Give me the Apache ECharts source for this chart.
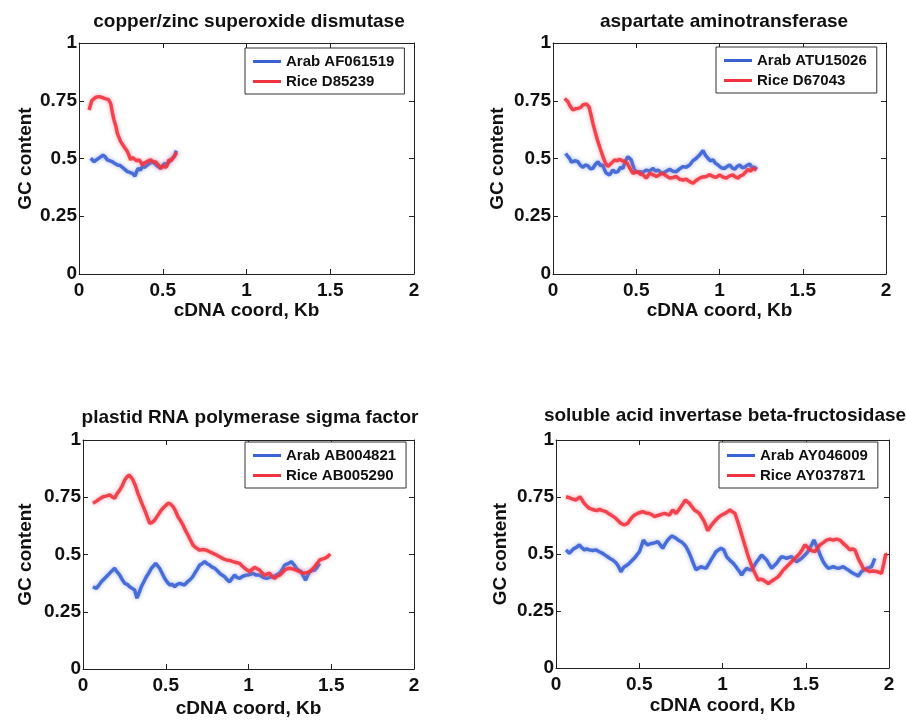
<!DOCTYPE html>
<html>
<head>
<meta charset="utf-8">
<script src="https://cdn.jsdelivr.net/npm/echarts@6/dist/echarts.min.js"></script>
<style>
  html, body { margin: 0; padding: 0; background: #fff; }
  #gc_chart { width: 906px; height: 723px; }
</style>
</head>
<body>
<div id="gc_chart"></div>
<script>
// tick values shared by all four panels
const xTicks = [0, 0.5, 1, 1.5, 2];
const yTicks = [0, 0.25, 0.5, 0.75, 1];

const titles = [
  "copper/zinc superoxide dismutase",
  "aspartate aminotransferase",
  "plastid RNA polymerase sigma factor",
  "soluble acid invertase beta-fructosidase",
];
const arabNames = ["Arab AF061519", "Arab ATU15026", "Arab AB004821", "Arab AY046009"];
const riceNames = ["Rice D85239", "Rice D67043", "Rice AB005290", "Rice AY037871"];

// [cDNA coord (Kb), GC content]
const cuznArab = [
  [0.07, 0.501], [0.09, 0.486], [0.109, 0.497], [0.125, 0.505], [0.143, 0.515], [0.155, 0.508],
  [0.169, 0.494], [0.185, 0.49], [0.199, 0.486], [0.215, 0.478], [0.229, 0.472], [0.245, 0.47],
  [0.259, 0.462], [0.275, 0.452], [0.289, 0.443], [0.305, 0.44], [0.318, 0.436], [0.334, 0.424],
  [0.345, 0.445], [0.354, 0.457], [0.366, 0.45], [0.378, 0.465], [0.392, 0.462], [0.408, 0.472],
  [0.423, 0.48], [0.438, 0.486], [0.452, 0.478], [0.468, 0.467], [0.488, 0.457], [0.5, 0.47],
  [0.513, 0.479], [0.525, 0.47], [0.537, 0.486], [0.557, 0.501], [0.57, 0.51], [0.581, 0.534],
];
const cuznRice = [
  [0.06, 0.71], [0.068, 0.73], [0.076, 0.75], [0.088, 0.758], [0.1, 0.765], [0.11, 0.762],
  [0.119, 0.768], [0.135, 0.765], [0.149, 0.761], [0.162, 0.758], [0.175, 0.756], [0.189, 0.739],
  [0.199, 0.7], [0.209, 0.667], [0.22, 0.64], [0.229, 0.609], [0.249, 0.573], [0.269, 0.551],
  [0.289, 0.53], [0.3, 0.51], [0.308, 0.494], [0.318, 0.505], [0.328, 0.501], [0.345, 0.49],
  [0.358, 0.494], [0.368, 0.485], [0.378, 0.472], [0.39, 0.48], [0.398, 0.486], [0.415, 0.49],
  [0.428, 0.494], [0.445, 0.484], [0.458, 0.486], [0.475, 0.47], [0.488, 0.457], [0.497, 0.468],
  [0.507, 0.472], [0.52, 0.462], [0.537, 0.494], [0.55, 0.49], [0.567, 0.508], [0.583, 0.526],
];

const aatArab = [
  [0.076, 0.522], [0.088, 0.51], [0.1, 0.5], [0.11, 0.485], [0.12, 0.479], [0.135, 0.49],
  [0.15, 0.486], [0.165, 0.47], [0.18, 0.462], [0.195, 0.472], [0.21, 0.468], [0.225, 0.455],
  [0.24, 0.458], [0.255, 0.475], [0.27, 0.486], [0.285, 0.47], [0.3, 0.472], [0.31, 0.45],
  [0.32, 0.436], [0.34, 0.429], [0.35, 0.44], [0.36, 0.45], [0.375, 0.44], [0.39, 0.443],
  [0.405, 0.462], [0.42, 0.457], [0.435, 0.49], [0.45, 0.508], [0.46, 0.5], [0.47, 0.494],
  [0.48, 0.47], [0.49, 0.45], [0.505, 0.44], [0.521, 0.443], [0.54, 0.44], [0.561, 0.45],
  [0.58, 0.445], [0.601, 0.457], [0.615, 0.445], [0.631, 0.45], [0.645, 0.44], [0.661, 0.436],
  [0.68, 0.445], [0.701, 0.453], [0.72, 0.445], [0.741, 0.443], [0.76, 0.455], [0.781, 0.465],
  [0.8, 0.462], [0.821, 0.472], [0.84, 0.49], [0.861, 0.501], [0.88, 0.515], [0.901, 0.534],
  [0.915, 0.515], [0.931, 0.501], [0.945, 0.49], [0.961, 0.494], [0.975, 0.48], [0.991, 0.472],
  [1.01, 0.46], [1.031, 0.457], [1.045, 0.465], [1.061, 0.472], [1.075, 0.46], [1.091, 0.453],
  [1.105, 0.465], [1.121, 0.472], [1.135, 0.46], [1.151, 0.462], [1.165, 0.47], [1.181, 0.476],
  [1.195, 0.46], [1.211, 0.462], [1.225, 0.453],
];
const aatRice = [
  [0.07, 0.76], [0.08, 0.752], [0.09, 0.746], [0.1, 0.73], [0.11, 0.72], [0.12, 0.71],
  [0.135, 0.715], [0.15, 0.717], [0.165, 0.72], [0.18, 0.732], [0.19, 0.728], [0.2, 0.736],
  [0.216, 0.724], [0.228, 0.69], [0.24, 0.652], [0.255, 0.61], [0.27, 0.573], [0.285, 0.54],
  [0.3, 0.508], [0.315, 0.48], [0.33, 0.465], [0.34, 0.47], [0.35, 0.479], [0.36, 0.475],
  [0.37, 0.494], [0.385, 0.49], [0.4, 0.497], [0.415, 0.49], [0.43, 0.487], [0.445, 0.48],
  [0.456, 0.472], [0.468, 0.45], [0.48, 0.436], [0.495, 0.44], [0.51, 0.443], [0.525, 0.432],
  [0.541, 0.429], [0.56, 0.415], [0.581, 0.436], [0.6, 0.43], [0.621, 0.422], [0.64, 0.43],
  [0.661, 0.436], [0.68, 0.425], [0.701, 0.415], [0.72, 0.418], [0.741, 0.422], [0.76, 0.41],
  [0.781, 0.407], [0.8, 0.41], [0.821, 0.4], [0.841, 0.393], [0.86, 0.405], [0.881, 0.415],
  [0.9, 0.42], [0.921, 0.422], [0.94, 0.43], [0.961, 0.422], [0.98, 0.418], [1.001, 0.429],
  [1.02, 0.42], [1.041, 0.415], [1.06, 0.425], [1.081, 0.429], [1.095, 0.42], [1.111, 0.415],
  [1.125, 0.425], [1.141, 0.429], [1.155, 0.44], [1.171, 0.453], [1.185, 0.445], [1.201, 0.457],
  [1.221, 0.45],
];

const sigArab = [
  [0.06, 0.359], [0.081, 0.352], [0.095, 0.365], [0.111, 0.381], [0.13, 0.395], [0.151, 0.41],
  [0.17, 0.425], [0.191, 0.44], [0.205, 0.425], [0.222, 0.41], [0.237, 0.39], [0.252, 0.374],
  [0.267, 0.37], [0.282, 0.359], [0.297, 0.352], [0.312, 0.345], [0.326, 0.309], [0.34, 0.335],
  [0.352, 0.359], [0.367, 0.38], [0.383, 0.403], [0.398, 0.42], [0.413, 0.44], [0.426, 0.45],
  [0.439, 0.461], [0.451, 0.455], [0.463, 0.44], [0.478, 0.418], [0.493, 0.396], [0.508, 0.38],
  [0.524, 0.367], [0.539, 0.37], [0.554, 0.359], [0.569, 0.37], [0.584, 0.374], [0.6, 0.37],
  [0.614, 0.367], [0.63, 0.38], [0.644, 0.388], [0.66, 0.4], [0.675, 0.418], [0.69, 0.435],
  [0.705, 0.454], [0.72, 0.46], [0.735, 0.469], [0.75, 0.46], [0.765, 0.454], [0.78, 0.445],
  [0.796, 0.44], [0.81, 0.43], [0.826, 0.418], [0.84, 0.41], [0.856, 0.403], [0.87, 0.39],
  [0.886, 0.381], [0.9, 0.395], [0.916, 0.41], [0.93, 0.4], [0.947, 0.396], [0.965, 0.405],
  [0.987, 0.41], [1.005, 0.412], [1.027, 0.418], [1.045, 0.41], [1.067, 0.41], [1.088, 0.4],
  [1.108, 0.396], [1.128, 0.4], [1.148, 0.403], [1.168, 0.41], [1.188, 0.418], [1.205, 0.435],
  [1.219, 0.454], [1.24, 0.46], [1.259, 0.469], [1.275, 0.455], [1.289, 0.44], [1.305, 0.43],
  [1.319, 0.425], [1.332, 0.405], [1.345, 0.388], [1.358, 0.41], [1.37, 0.425], [1.385, 0.43],
  [1.4, 0.432], [1.415, 0.445], [1.43, 0.461],
];
const sigRice = [
  [0.06, 0.724], [0.075, 0.73], [0.091, 0.738], [0.105, 0.745], [0.121, 0.752], [0.14, 0.755],
  [0.161, 0.76], [0.176, 0.752], [0.191, 0.745], [0.205, 0.765], [0.222, 0.781], [0.237, 0.8],
  [0.252, 0.825], [0.265, 0.838], [0.278, 0.847], [0.29, 0.838], [0.302, 0.825], [0.317, 0.8],
  [0.332, 0.767], [0.352, 0.73], [0.373, 0.694], [0.388, 0.665], [0.403, 0.636], [0.418, 0.64],
  [0.433, 0.65], [0.453, 0.672], [0.473, 0.694], [0.494, 0.71], [0.514, 0.724], [0.529, 0.72],
  [0.544, 0.709], [0.559, 0.69], [0.574, 0.665], [0.589, 0.648], [0.604, 0.629], [0.619, 0.605],
  [0.634, 0.585], [0.65, 0.562], [0.665, 0.541], [0.685, 0.528], [0.705, 0.519], [0.725, 0.522],
  [0.745, 0.519], [0.765, 0.512], [0.786, 0.505], [0.806, 0.498], [0.826, 0.49], [0.846, 0.482],
  [0.866, 0.476], [0.886, 0.474], [0.906, 0.469], [0.926, 0.465], [0.947, 0.461], [0.962, 0.45],
  [0.977, 0.44], [0.992, 0.432], [1.007, 0.425], [1.022, 0.435], [1.037, 0.444], [1.052, 0.438],
  [1.067, 0.432], [1.082, 0.42], [1.098, 0.41], [1.113, 0.415], [1.128, 0.418], [1.143, 0.405],
  [1.158, 0.396], [1.173, 0.405], [1.188, 0.41], [1.204, 0.42], [1.219, 0.432], [1.234, 0.438],
  [1.249, 0.44], [1.27, 0.436], [1.289, 0.432], [1.31, 0.425], [1.329, 0.418], [1.35, 0.42],
  [1.37, 0.425], [1.385, 0.435], [1.4, 0.447], [1.415, 0.462], [1.43, 0.476], [1.445, 0.48],
  [1.46, 0.483], [1.477, 0.49], [1.494, 0.502],
];

const invArab = [
  [0.06, 0.518], [0.08, 0.503], [0.095, 0.515], [0.11, 0.525], [0.125, 0.53], [0.14, 0.54],
  [0.155, 0.528], [0.17, 0.518], [0.185, 0.522], [0.2, 0.518], [0.22, 0.515], [0.24, 0.518],
  [0.26, 0.51], [0.28, 0.503], [0.295, 0.495], [0.31, 0.488], [0.325, 0.48], [0.34, 0.474],
  [0.355, 0.465], [0.37, 0.452], [0.38, 0.438], [0.39, 0.422], [0.4, 0.435], [0.41, 0.444],
  [0.425, 0.45], [0.44, 0.459], [0.455, 0.47], [0.47, 0.481], [0.485, 0.495], [0.501, 0.51],
  [0.513, 0.535], [0.525, 0.561], [0.538, 0.548], [0.551, 0.54], [0.566, 0.545], [0.581, 0.547],
  [0.596, 0.55], [0.611, 0.554], [0.626, 0.54], [0.641, 0.525], [0.656, 0.545], [0.671, 0.561],
  [0.684, 0.572], [0.697, 0.579], [0.709, 0.575], [0.721, 0.569], [0.736, 0.56], [0.751, 0.554],
  [0.766, 0.545], [0.781, 0.532], [0.791, 0.518], [0.801, 0.503], [0.811, 0.485], [0.821, 0.466],
  [0.831, 0.448], [0.841, 0.43], [0.856, 0.438], [0.871, 0.444], [0.886, 0.44], [0.901, 0.437],
  [0.916, 0.455], [0.931, 0.474], [0.946, 0.492], [0.961, 0.51], [0.976, 0.518], [0.991, 0.525],
  [1.008, 0.518], [1.025, 0.488], [1.045, 0.472], [1.065, 0.459], [1.08, 0.445], [1.095, 0.43],
  [1.105, 0.42], [1.115, 0.408], [1.13, 0.425], [1.145, 0.437], [1.16, 0.432], [1.175, 0.43],
  [1.19, 0.448], [1.205, 0.466], [1.22, 0.48], [1.235, 0.496], [1.25, 0.485], [1.265, 0.474],
  [1.28, 0.455], [1.295, 0.437], [1.31, 0.448], [1.325, 0.459], [1.34, 0.475], [1.355, 0.488],
  [1.37, 0.485], [1.385, 0.481], [1.4, 0.485], [1.415, 0.488], [1.43, 0.476], [1.445, 0.466],
  [1.46, 0.474], [1.475, 0.481], [1.49, 0.492], [1.505, 0.503], [1.517, 0.515], [1.529, 0.532],
  [1.539, 0.545], [1.549, 0.561], [1.562, 0.54], [1.575, 0.518], [1.59, 0.49], [1.605, 0.466],
  [1.62, 0.45], [1.635, 0.437], [1.65, 0.44], [1.665, 0.444], [1.68, 0.44], [1.695, 0.437],
  [1.71, 0.44], [1.725, 0.444], [1.74, 0.437], [1.755, 0.43], [1.77, 0.422], [1.785, 0.415],
  [1.8, 0.41], [1.815, 0.403], [1.825, 0.413], [1.835, 0.423], [1.85, 0.43], [1.865, 0.437],
  [1.88, 0.44], [1.895, 0.444], [1.905, 0.462], [1.915, 0.481],
];
const invRice = [
  [0.06, 0.751], [0.075, 0.748], [0.09, 0.744], [0.105, 0.74], [0.12, 0.737], [0.132, 0.745],
  [0.144, 0.751], [0.157, 0.737], [0.17, 0.722], [0.185, 0.71], [0.2, 0.7], [0.215, 0.697],
  [0.23, 0.693], [0.245, 0.69], [0.26, 0.696], [0.28, 0.69], [0.3, 0.686], [0.315, 0.678],
  [0.33, 0.671], [0.345, 0.664], [0.36, 0.656], [0.375, 0.645], [0.39, 0.634], [0.41, 0.627],
  [0.43, 0.634], [0.445, 0.65], [0.46, 0.664], [0.475, 0.672], [0.49, 0.678], [0.505, 0.682],
  [0.52, 0.686], [0.54, 0.68], [0.561, 0.678], [0.576, 0.672], [0.591, 0.664], [0.606, 0.668],
  [0.621, 0.671], [0.636, 0.675], [0.651, 0.678], [0.666, 0.675], [0.681, 0.671], [0.691, 0.682],
  [0.701, 0.693], [0.711, 0.685], [0.721, 0.678], [0.736, 0.692], [0.751, 0.708], [0.764, 0.722],
  [0.777, 0.737], [0.789, 0.73], [0.801, 0.722], [0.816, 0.708], [0.831, 0.693], [0.846, 0.686],
  [0.861, 0.678], [0.876, 0.66], [0.891, 0.642], [0.901, 0.622], [0.911, 0.602], [0.926, 0.618],
  [0.941, 0.634], [0.961, 0.65], [0.981, 0.664], [0.998, 0.672], [1.015, 0.678], [1.03, 0.685],
  [1.045, 0.693], [1.06, 0.685], [1.075, 0.678], [1.085, 0.656], [1.095, 0.634], [1.11, 0.598],
  [1.125, 0.561], [1.14, 0.525], [1.155, 0.488], [1.17, 0.459], [1.185, 0.43], [1.2, 0.408],
  [1.215, 0.386], [1.23, 0.39], [1.245, 0.386], [1.26, 0.378], [1.275, 0.371], [1.29, 0.378],
  [1.305, 0.386], [1.32, 0.393], [1.335, 0.401], [1.35, 0.415], [1.365, 0.43], [1.38, 0.441],
  [1.395, 0.452], [1.41, 0.463], [1.425, 0.474], [1.445, 0.488], [1.465, 0.503], [1.48, 0.52],
  [1.495, 0.54], [1.51, 0.53], [1.525, 0.518], [1.54, 0.514], [1.555, 0.51], [1.57, 0.525],
  [1.585, 0.54], [1.605, 0.55], [1.625, 0.561], [1.645, 0.565], [1.665, 0.561], [1.685, 0.565],
  [1.705, 0.561], [1.72, 0.55], [1.735, 0.54], [1.75, 0.53], [1.765, 0.518], [1.78, 0.522],
  [1.795, 0.518], [1.805, 0.5], [1.815, 0.481], [1.83, 0.46], [1.845, 0.437], [1.865, 0.43],
  [1.885, 0.423], [1.905, 0.425], [1.925, 0.423], [1.94, 0.42], [1.955, 0.415], [1.962, 0.437],
  [1.969, 0.459], [1.979, 0.496], [1.99, 0.5],
];

const arabData = [cuznArab, aatArab, sigArab, invArab];
const riceData = [cuznRice, aatRice, sigRice, invRice];

const FONT = "Liberation Sans";
const blue = "#3a62d4";
const red = "#f0333f";

// plot boxes and label spots, in page pixels
const grids = [
  { left: 79, top: 43, width: 335, height: 231 },
  { left: 553, top: 43, width: 333, height: 231 },
  { left: 83, top: 440, width: 331, height: 229 },
  { left: 556, top: 440, width: 333, height: 228 },
];
const titlePos = [[244, 7], [719, 7], [245, 403], [720, 401]];
const legendPos = [[245, 48], [716, 47], [245, 442], [719, 442]];
const xNameGap = [25, 27, 30, 28];
const yNameGap = [44, 46, 48, 46];

let option = {
  animation: false,
  backgroundColor: "#fff",
  title: [],
  legend: [],
  grid: [],
  xAxis: [],
  yAxis: [],
  series: [],
};

grids.forEach((g, i) => {
  option.grid.push({
    left: g.left,
    top: g.top,
    width: g.width,
    height: g.height,
    containLabel: false,
  });
  option.title.push({
    text: titles[i],
    left: titlePos[i][0],
    top: titlePos[i][1],
    textAlign: "center",
    textStyle: { fontFamily: FONT, fontWeight: "bold", fontSize: 19, color: "#111" },
  });
  option.legend.push({
    data: [arabNames[i], riceNames[i]],
    orient: "vertical",
    left: legendPos[i][0],
    top: legendPos[i][1],
    padding: [6, 10, 5, 8],
    itemGap: 5,
    itemWidth: 28,
    itemHeight: 3,
    icon: "rect",
    borderColor: "#333",
    borderWidth: 1,
    backgroundColor: "#fff",
    textStyle: { fontFamily: FONT, fontWeight: "bold", fontSize: 15, color: "#111", lineHeight: 15 },
  });

  let axisLine = { show: true, onZero: false, lineStyle: { color: "#222", width: 1 } };
  let tick = { show: true, inside: true, length: 5, lineStyle: { color: "#222" } };
  let labelStyle = { fontFamily: FONT, fontWeight: "bold", fontSize: 19, color: "#111" };

  option.xAxis.push({
    gridIndex: i,
    type: "value",
    min: xTicks[0],
    max: xTicks[xTicks.length - 1],
    interval: xTicks[1] - xTicks[0],
    name: "cDNA coord, Kb",
    nameLocation: "middle",
    nameGap: xNameGap[i],
    nameTextStyle: labelStyle,
    axisLine: axisLine,
    axisTick: tick,
    axisLabel: Object.assign({ margin: 7 }, labelStyle),
    splitLine: { show: false },
  });
  option.xAxis.push({
    gridIndex: i,
    type: "value",
    position: "top",
    min: xTicks[0],
    max: xTicks[xTicks.length - 1],
    interval: xTicks[1] - xTicks[0],
    axisLine: axisLine,
    axisTick: tick,
    axisLabel: { show: false },
    splitLine: { show: false },
  });
  option.yAxis.push({
    gridIndex: i,
    type: "value",
    min: yTicks[0],
    max: yTicks[yTicks.length - 1],
    interval: yTicks[1] - yTicks[0],
    name: "GC content",
    nameLocation: "middle",
    nameGap: yNameGap[i],
    nameTextStyle: labelStyle,
    axisLine: axisLine,
    axisTick: tick,
    axisLabel: Object.assign({ margin: 2 }, labelStyle),
    splitLine: { show: false },
  });
  option.yAxis.push({
    gridIndex: i,
    type: "value",
    position: "right",
    min: yTicks[0],
    max: yTicks[yTicks.length - 1],
    interval: yTicks[1] - yTicks[0],
    axisLine: axisLine,
    axisTick: tick,
    axisLabel: { show: false },
    splitLine: { show: false },
  });

  option.series.push({
    name: arabNames[i],
    type: "line",
    xAxisIndex: 2 * i,
    yAxisIndex: 2 * i,
    data: arabData[i],
    symbol: "none",
    color: blue,
    lineStyle: { width: 3.5, color: blue, opacity: 0.9, shadowColor: "rgba(90,120,230,0.6)", shadowBlur: 4 },
  });
  option.series.push({
    name: riceNames[i],
    type: "line",
    xAxisIndex: 2 * i,
    yAxisIndex: 2 * i,
    data: riceData[i],
    symbol: "none",
    color: red,
    lineStyle: { width: 3.5, color: red, opacity: 0.9, shadowColor: "rgba(255,110,120,0.7)", shadowBlur: 4 },
  });
});

let chart = echarts.init(document.getElementById("gc_chart"));
chart.setOption(option);
</script>
</body>
</html>
